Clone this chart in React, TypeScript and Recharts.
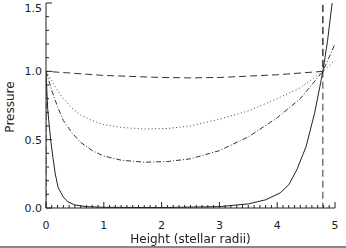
import React from 'react';
import { LineChart, Line, XAxis, YAxis } from 'recharts';

// Pressure curves (x = height in stellar radii)
const solidData = [
  { x: 0, y: 1.0 }, { x: 0.03, y: 0.72 }, { x: 0.08, y: 0.5 }, { x: 0.12, y: 0.37 },
  { x: 0.16, y: 0.25 }, { x: 0.21, y: 0.15 }, { x: 0.3, y: 0.08 }, { x: 0.38, y: 0.045 },
  { x: 0.5, y: 0.022 }, { x: 0.7, y: 0.01 }, { x: 1.0, y: 0.005 }, { x: 2.0, y: 0.003 },
  { x: 3.0, y: 0.01 }, { x: 3.5, y: 0.03 }, { x: 3.8, y: 0.06 }, { x: 4.05, y: 0.11 },
  { x: 4.2, y: 0.17 }, { x: 4.34, y: 0.28 }, { x: 4.5, y: 0.45 }, { x: 4.65, y: 0.7 },
  { x: 4.79, y: 1.0 }, { x: 4.87, y: 1.22 }, { x: 4.95, y: 1.5 },
];

const dottedData = [
  { x: 0, y: 1.0 }, { x: 0.1, y: 0.93 }, { x: 0.2, y: 0.86 }, { x: 0.3, y: 0.8 },
  { x: 0.45, y: 0.73 }, { x: 0.6, y: 0.68 }, { x: 0.8, y: 0.64 }, { x: 1.0, y: 0.61 },
  { x: 1.3, y: 0.59 }, { x: 1.7, y: 0.578 }, { x: 2.1, y: 0.582 }, { x: 2.5, y: 0.6 },
  { x: 3.0, y: 0.65 }, { x: 3.5, y: 0.71 }, { x: 4.0, y: 0.8 }, { x: 4.4, y: 0.88 },
  { x: 4.79, y: 1.0 }, { x: 5.0, y: 1.08 },
];

const dashDotData = [
  { x: 0, y: 1.0 }, { x: 0.1, y: 0.86 }, { x: 0.2, y: 0.74 }, { x: 0.3, y: 0.64 },
  { x: 0.45, y: 0.55 }, { x: 0.6, y: 0.48 }, { x: 0.8, y: 0.42 }, { x: 1.0, y: 0.38 },
  { x: 1.3, y: 0.35 }, { x: 1.7, y: 0.335 }, { x: 2.1, y: 0.34 }, { x: 2.5, y: 0.36 },
  { x: 3.0, y: 0.42 }, { x: 3.5, y: 0.52 }, { x: 4.0, y: 0.66 }, { x: 4.4, y: 0.8 },
  { x: 4.79, y: 1.0 }, { x: 5.0, y: 1.2 },
];

const dashedData = [
  { x: 0, y: 0 }, { x: 0, y: 1.0 }, { x: 0.5, y: 0.985 }, { x: 1.0, y: 0.97 },
  { x: 2.0, y: 0.955 }, { x: 2.5, y: 0.952 }, { x: 3.0, y: 0.955 }, { x: 4.0, y: 0.975 },
  { x: 4.79, y: 1.0 }, { x: 4.79, y: 1.5 }, { x: 4.79, y: 0 },
];

const xMajor = [0, 1, 2, 3, 4, 5];
const yMajor = [0, 0.5, 1.0, 1.5];
const xLabels = ['0', '1', '2', '3', '4', '5'];
const yLabels = ['0.0', '0.5', '1.0', '1.5'];

// minor ticks every 0.1
const xTicks = Array.from({ length: 51 }, (_, i) => i / 10);
const yTicks = Array.from({ length: 16 }, (_, i) => i / 10);

const INK = '#222';
const FONT = '"DejaVu Sans", sans-serif';

const findMajor = (v: number, list: number[]) => list.findIndex(m => Math.abs(m - v) < 1e-6);

const XTick = ({ x, y, payload, top }: any) => {
  const idx = findMajor(payload.value, xMajor);
  const len = idx >= 0 ? 6 : 3;
  return (
    <g>
      <line x1={x} x2={x} y1={y} y2={top ? y + len : y - len} stroke={INK} strokeWidth={1} />
      {!top && idx >= 0 && (
        <text x={x} y={y + 21} textAnchor="middle" fontSize={11} fill={INK} fontFamily={FONT}>
          {xLabels[idx]}
        </text>
      )}
    </g>
  );
};

const YTick = ({ x, y, payload, right }: any) => {
  const idx = findMajor(payload.value, yMajor);
  const len = idx >= 0 ? 6 : 3;
  return (
    <g>
      <line x1={x} x2={right ? x - len : x + len} y1={y} y2={y} stroke={INK} strokeWidth={1} />
      {!right && idx >= 0 && (
        <text x={x - 4} y={Math.max(y + 4, 12)} textAnchor="end" fontSize={11} fill={INK} fontFamily={FONT}>
          {yLabels[idx]}
        </text>
      )}
    </g>
  );
};

const App: React.FC = () => {
  return (
    <div style={{ position: 'fixed', left: 0, top: 0, width: 346, height: 248, background: '#fff' }}>
      <LineChart width={346} height={248} margin={{ top: 3, right: 11, left: 0, bottom: 0 }}>
        <XAxis
          type="number" dataKey="x" domain={[0, 5]} ticks={xTicks} interval={0}
          allowDataOverflow height={40} tickSize={0} tickMargin={0}
          axisLine={{ stroke: INK }} tickLine={false} tick={<XTick />}
        />
        <XAxis
          xAxisId="top" orientation="top" type="number" domain={[0, 5]} ticks={xTicks} interval={0}
          allowDataOverflow height={0} tickSize={0} tickMargin={0}
          axisLine={{ stroke: INK }} tickLine={false} tick={<XTick top />}
        />
        <YAxis
          type="number" domain={[0, 1.5]} ticks={yTicks} interval={0}
          allowDataOverflow width={46} tickSize={0} tickMargin={0}
          axisLine={{ stroke: INK }} tickLine={false} tick={<YTick />}
        />
        <YAxis
          yAxisId="right" orientation="right" type="number" domain={[0, 1.5]} ticks={yTicks} interval={0}
          allowDataOverflow width={0} tickSize={0} tickMargin={0}
          axisLine={{ stroke: INK }} tickLine={false} tick={<YTick right />}
        />
        <Line data={dashedData} dataKey="y" stroke="#333" strokeWidth={1} strokeDasharray="7 4" dot={false} isAnimationActive={false} />
        <Line data={dottedData} dataKey="y" stroke="#444" strokeWidth={1} strokeDasharray="1 2.5" dot={false} isAnimationActive={false} />
        <Line data={dashDotData} dataKey="y" stroke="#333" strokeWidth={1} strokeDasharray="5 2 1 2" dot={false} isAnimationActive={false} />
        <Line data={solidData} dataKey="y" stroke={INK} strokeWidth={1} dot={false} isAnimationActive={false} />
      </LineChart>
      <div style={{ position: 'absolute', left: 0, width: 381, top: 232, textAlign: 'center', fontSize: 12, fontFamily: FONT, color: INK }}>
        Height (stellar radii)
      </div>
      <div style={{ position: 'absolute', left: 10, top: 107, width: 0, height: 0 }}>
        <div style={{ position: 'absolute', transform: 'translate(-50%, -50%) rotate(-90deg)', fontSize: 12, fontFamily: FONT, color: INK, whiteSpace: 'nowrap' }}>
          Pressure
        </div>
      </div>
      <div style={{ position: 'absolute', left: 0, top: 246, width: 346, height: 2, background: '#888' }} />
    </div>
  );
};

export default App;
